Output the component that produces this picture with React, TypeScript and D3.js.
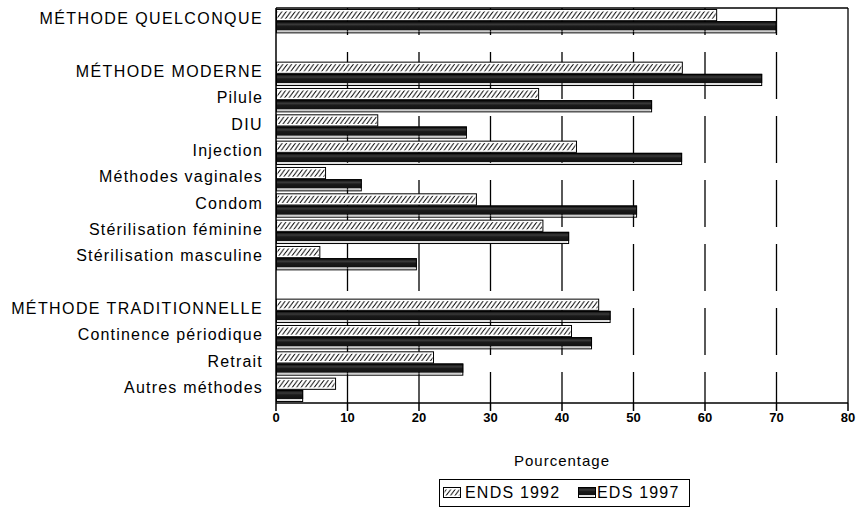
import React from 'react';
import * as d3 from 'd3';

// row labels, '' = empty spacer row
const categories = [
  'MÉTHODE QUELCONQUE', '',
  'MÉTHODE MODERNE', 'Pilule', 'DIU', 'Injection', 'Méthodes vaginales', 'Condom',
  'Stérilisation féminine', 'Stérilisation masculine', '',
  'MÉTHODE TRADITIONNELLE', 'Continence périodique', 'Retrait', 'Autres méthodes',
];
const ends1992 = [61.7, null, 56.9, 36.8, 14.3, 42.1, 7.0, 28.1, 37.4, 6.2, null, 45.2, 41.4, 22.1, 8.4];
const eds1997 = [70.0, null, 68.0, 52.6, 26.7, 56.8, 12.0, 50.5, 41.0, 19.7, null, 46.8, 44.2, 26.2, 3.8];
const xTicks = [0, 10, 20, 30, 40, 50, 60, 70, 80];
const seriesNames = ['ENDS 1992', 'EDS 1997'];

const W = 856;
const H = 508;
const margin = { top: 8, right: 8, bottom: 105, left: 276 };
const font = '"Liberation Sans", Arial, sans-serif';

export default function App() {
  const x = d3.scaleLinear().domain([0, 80]).range([margin.left, W - margin.right]);
  const y = d3.scaleBand<number>()
    .domain(categories.map((_, i) => i))
    .range([margin.top, H - margin.bottom]);
  const sub = d3.scaleBand<string>()
    .domain(['a', 'b'])
    .range([0, y.bandwidth()])
    .paddingOuter(0.08);

  const x0 = x(0);
  const xr = x(80);
  const yTop = margin.top;
  const yBot = H - margin.bottom;

  const blackBar = (bx: number, by: number, bw: number, bh: number, key: string) => (
    <g key={key}>
      <rect x={bx} y={by} width={bw} height={bh - 3} fill="url(#darkGrad)" />
      <rect x={bx + 0.5} y={by + 0.5} width={bw - 1} height={bh - 1} fill="none" stroke="#000" strokeWidth={1} />
      <line x1={bx + 1} x2={bx + bw - 2} y1={by + bh - 2} y2={by + bh - 2} stroke="#9a9a9a" strokeWidth={0.6} />
    </g>
  );

  const hatchBar = (bx: number, by: number, bw: number, bh: number, key: string) => (
    <g key={key}>
      <rect x={bx + 0.5} y={by + 0.5} width={bw - 1} height={bh - 1} fill="#fff" stroke="#000" strokeWidth={1} />
      <rect x={bx + 1.5} y={by + 2.5} width={Math.max(0, bw - 3)} height={bh - 5} fill="url(#hatch)" />
    </g>
  );

  const legendY = 479;
  const legendX = 439;

  return (
    <svg width={W} height={H} style={{ position: 'absolute', left: 0, top: 0, background: '#fff' }}>
      <defs>
        <pattern id="hatch" patternUnits="userSpaceOnUse" width={4.4} height={6}>
          <path d="M0,6 L4.4,0 M-0.8,1.1 L0.8,-1.1 M3.6,7.1 L5.2,4.9" stroke="#000" strokeWidth={1} />
        </pattern>
        <linearGradient id="darkGrad" x1="0" y1="0" x2="0" y2="1">
          <stop offset="0%" stopColor="#000" />
          <stop offset="35%" stopColor="#3a3a3a" />
          <stop offset="55%" stopColor="#1a1a1a" />
          <stop offset="100%" stopColor="#111" />
        </linearGradient>
      </defs>
      <rect width={W} height={H} fill="#fff" />

      {/* dashed grid */}
      {xTicks.slice(1, -1).map(t => (
        <line key={`g${t}`} x1={x(t)} x2={x(t)} y1={yTop} y2={yBot}
          stroke="#000" strokeWidth={1.3} strokeDasharray="47 17" strokeDashoffset={20} />
      ))}

      {/* bars */}
      {categories.map((_, i) => {
        const by = y(i) as number;
        const a = ends1992[i];
        const b = eds1997[i];
        return (
          <g key={`row${i}`}>
            {a != null && hatchBar(x0, by + (sub('a') as number), x(a) - x0, sub.bandwidth(), `a${i}`)}
            {b != null && blackBar(x0, by + (sub('b') as number), x(b) - x0, sub.bandwidth(), `b${i}`)}
          </g>
        );
      })}

      {/* frame */}
      <line x1={x0} x2={xr} y1={yTop} y2={yTop} stroke="#000" strokeWidth={1.3} />
      <line x1={xr} x2={xr} y1={yTop} y2={yBot} stroke="#000" strokeWidth={1.3} />
      <line x1={x0} x2={x0} y1={yTop} y2={yBot} stroke="#000" strokeWidth={1.5} />
      <line x1={x0} x2={xr} y1={yBot} y2={yBot} stroke="#000" strokeWidth={1.5} />

      {/* x axis */}
      {xTicks.map(t => (
        <g key={`t${t}`}>
          <line x1={x(t)} x2={x(t)} y1={yBot} y2={yBot + 8} stroke="#000" strokeWidth={1.5} />
          <text x={x(t)} y={yBot + 16} textAnchor="middle" dominantBaseline="middle"
            fontFamily={font} fontSize={13} fontWeight="bold" fill="#000">{t}</text>
        </g>
      ))}
      <text x={(x0 + xr) / 2} y={462} textAnchor="middle" dominantBaseline="middle"
        fontFamily={font} fontSize={15} letterSpacing={1} fill="#000">Pourcentage</text>

      {/* category labels */}
      {categories.map((c, i) => c && (
        <text key={`l${i}`} x={263} y={(y(i) as number) + y.bandwidth() / 2 - 1} textAnchor="end"
          dominantBaseline="middle" fontFamily={font} fontSize={16}
          letterSpacing={c === c.toUpperCase() ? 1.4 : 1.2} fill="#000">{c}</text>
      ))}

      {/* legend */}
      <g>
        <rect x={legendX + 0.5} y={legendY + 0.5} width={250} height={27} fill="#fff" stroke="#000" strokeWidth={1} />
        {hatchBar(legendX + 4, legendY + 8, 18, 11, 'lg1')}
        <text x={legendX + 26} y={legendY + 14.5} dominantBaseline="middle" fontFamily={font}
          fontSize={16} letterSpacing={1.2} fill="#000">{seriesNames[0]}</text>
        {blackBar(legendX + 139, legendY + 8, 18, 11, 'lg2')}
        <text x={legendX + 158} y={legendY + 14.5} dominantBaseline="middle" fontFamily={font}
          fontSize={16} letterSpacing={1.2} fill="#000">{seriesNames[1]}</text>
      </g>
    </svg>
  );
}
